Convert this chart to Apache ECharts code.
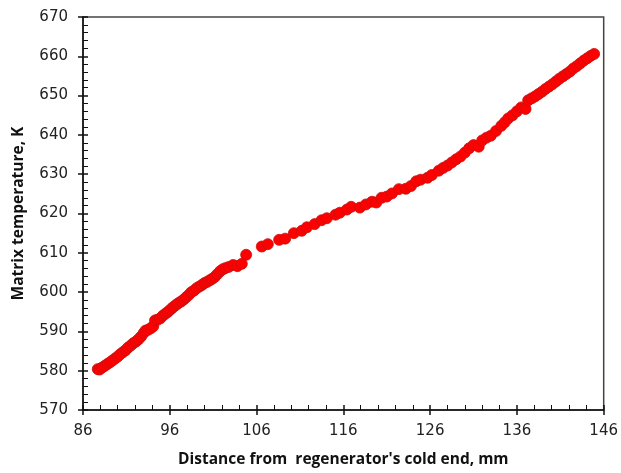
<!DOCTYPE html>
<html>
<head>
<meta charset="utf-8">
<script src="https://cdn.jsdelivr.net/npm/echarts@6/dist/echarts.min.js"></script>
<style>
  html, body { margin: 0; padding: 0; background: #fff; }
  #chart { width: 621px; height: 473px; }
</style>
</head>
<body>
<div id="chart"></div>
<script>
// distance from the cold end, mm
const distance = [
  87.7, 87.9, 88.2, 88.5, 88.8, 89.1, 89.4, 89.7, 90.0, 90.3,
  90.6, 90.9, 91.2, 91.5, 91.8, 92.1, 92.4, 92.7, 93.0, 93.2,
  93.5, 93.8, 94.1, 94.3, 94.6, 94.9, 95.2, 95.5, 95.8, 96.1,
  96.4, 96.7, 97.0, 97.3, 97.6, 97.9, 98.2, 98.5, 98.8, 99.1,
  99.4, 99.7, 100.0, 100.3, 100.6, 100.9, 101.2, 101.5, 101.8, 102.1,
  102.4, 102.8, 103.3, 103.8, 104.3, 104.8, 106.6, 107.3, 108.6, 109.3,
  110.3, 111.2, 111.8, 112.7, 113.5, 114.1, 115.1, 115.6, 116.4, 116.9,
  117.9, 118.6, 119.3, 119.8, 120.4, 121.0, 121.6, 122.4, 123.2, 123.8,
  124.4, 124.9, 125.7, 126.2, 127.0, 127.5, 128.0, 128.5, 129.0, 129.5,
  130.0, 130.5, 131.0, 131.6, 132.0, 132.5, 133.0, 133.6, 134.2, 134.6,
  135.0, 135.5, 136.0, 136.5, 137.0, 137.3, 137.7, 138.1, 138.5, 138.9,
  139.3, 139.7, 140.1, 140.5, 140.9, 141.3, 141.7, 142.1, 142.5, 142.9,
  143.3, 143.7, 144.1, 144.5, 144.9
];
// matrix temperature, K
const temperature = [
  580.4, 580.3, 580.8, 581.2, 581.7, 582.1, 582.6, 583.1, 583.6, 584.2,
  584.7, 585.2, 585.9, 586.4, 587.0, 587.4, 588.0, 588.7, 589.6, 590.2,
  590.4, 590.8, 591.3, 592.8, 593.0, 593.3, 594.0, 594.5, 595.0, 595.6,
  596.2, 596.7, 597.2, 597.6, 598.1, 598.7, 599.3, 600.0, 600.4, 601.0,
  601.4, 601.8, 602.3, 602.6, 603.0, 603.4, 603.9, 604.6, 605.3, 605.8,
  606.1, 606.4, 606.9, 606.6, 607.2, 609.5, 611.6, 612.2, 613.3, 613.6,
  615.0, 615.6, 616.5, 617.3, 618.3, 618.8, 619.7, 620.2, 621.0, 621.7,
  621.5, 622.3, 623.0, 622.8, 624.0, 624.3, 625.1, 626.2, 626.3, 627.0,
  628.2, 628.6, 629.1, 629.8, 630.9, 631.6, 632.2, 633.0, 633.8, 634.5,
  635.5, 636.6, 637.4, 637.0, 638.6, 639.3, 639.8, 641.0, 642.3, 643.2,
  644.2, 645.0, 646.0, 647.0, 646.6, 648.8, 649.3, 649.8, 650.4, 651.0,
  651.7, 652.3, 652.9, 653.6, 654.3, 654.9, 655.5, 656.1, 656.9, 657.5,
  658.2, 658.9, 659.5, 660.1, 660.6
];

const xMin = 86, xMax = 146, xStep = 10;
const yMin = 570, yMax = 670, yStep = 10;

const points = distance.map((d, i) => [d, temperature[i]]);

const chart = echarts.init(document.getElementById("chart"));

const labelFont = { color: "#222", fontSize: 15, fontFamily: "DejaVu Sans" };
const nameFont = { color: "#111", fontSize: 15.5, fontWeight: "bold", fontFamily: "Open Sans" };

function xAxisBase(extra) {
  return Object.assign({
    type: "value",
    position: "bottom",
    min: xMin,
    max: xMax,
    interval: xStep,
    splitLine: { show: false },
  }, extra);
}
function yAxisBase(extra) {
  return Object.assign({
    type: "value",
    position: "left",
    min: yMin,
    max: yMax,
    interval: yStep,
    splitLine: { show: false },
  }, extra);
}

const option = {
  animation: false,
  backgroundColor: "#fff",
  grid: {
    left: 83,
    right: 14,
    top: 17,
    bottom: 62,
    show: true,
    borderColor: "#444",
    borderWidth: 1.5,
  },
  xAxis: [
    xAxisBase({
      name: "Distance from  regenerator's cold end, mm",
      nameLocation: "middle",
      nameGap: 42,
      nameTextStyle: nameFont,
      axisLine: { lineStyle: { color: "#111", width: 1.5 } },
      axisTick: { inside: true, length: 5, lineStyle: { color: "#111", width: 1.5 } },
      minorTick: { show: true, splitNumber: 5, length: 5, lineStyle: { color: "#111", width: 1 } },
      axisLabel: Object.assign({ margin: 14 }, labelFont),
    }),
    xAxisBase({
      axisLine: { show: false },
      axisTick: { inside: false, length: 5, lineStyle: { color: "#111", width: 1.5 } },
      axisLabel: { show: false },
    }),
  ],
  yAxis: [
    yAxisBase({
      name: "Matrix temperature, K",
      nameLocation: "middle",
      nameGap: 56,
      nameRotate: 90,
      nameTextStyle: nameFont,
      axisLine: { lineStyle: { color: "#111", width: 1.5 } },
      axisTick: { inside: true, length: 5, lineStyle: { color: "#111", width: 1.5 } },
      minorTick: { show: true, splitNumber: 5, length: 5, lineStyle: { color: "#111", width: 1 } },
      axisLabel: Object.assign({ margin: 15 }, labelFont),
    }),
    yAxisBase({
      axisLine: { show: false },
      axisTick: { inside: false, length: 5, lineStyle: { color: "#111", width: 1.5 } },
      axisLabel: { show: false },
    }),
  ],
  series: [
    {
      type: "scatter",
      xAxisIndex: 0,
      yAxisIndex: 0,
      symbol: "circle",
      symbolSize: 11,
      itemStyle: { color: "#ff0000", borderColor: "#c81010", borderWidth: 0.8, opacity: 1 },
      data: points,
    },
  ],
};

chart.setOption(option);
</script>
</body>
</html>
